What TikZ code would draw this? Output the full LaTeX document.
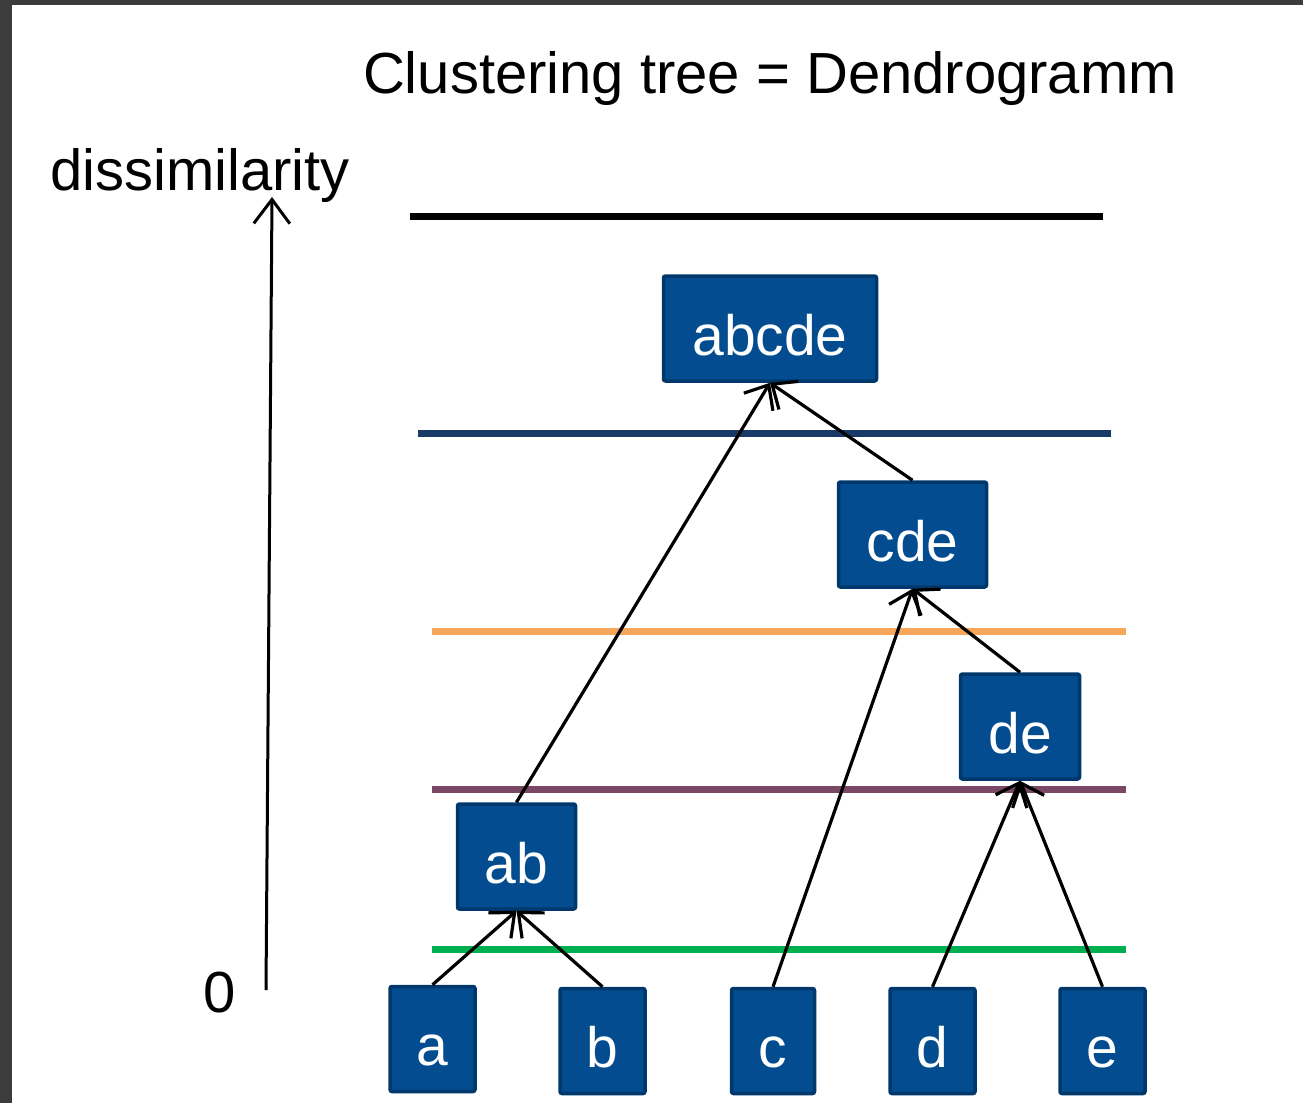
\documentclass[tikz,border=0pt]{standalone}
\usepackage{fontspec}
\setmainfont{Liberation Sans}
\usetikzlibrary{arrows.meta}

\definecolor{boxfill}{RGB}{2,76,143}
\definecolor{boxline}{RGB}{0,56,108}
\definecolor{framegray}{RGB}{60,60,60}
\definecolor{lvlnavy}{RGB}{24,58,102}
\definecolor{lvlorange}{RGB}{247,166,90}
\definecolor{lvlmauve}{RGB}{122,72,100}
\definecolor{lvlgreen}{RGB}{0,176,80}

\tikzset{
  cluster/.style={draw=boxline, fill=boxfill, line width=3.5pt, rounded corners=2pt,
    inner sep=0pt, text=white, font=\fontsize{57pt}{60pt}\selectfont,
    text height=53pt, text depth=0pt, minimum height=105pt},
  leaf/.style={cluster, minimum width=85pt},
  merge/.style={line width=3.2pt, -{Straight Barb[length=20pt,width=34pt]}},
  level/.style={line width=7pt},
  label/.style={font=\fontsize{58pt}{62pt}\selectfont, inner sep=0pt}
}

\begin{document}
\begin{tikzpicture}[x=1pt, y=-1pt]
  \useasboundingbox (0,0) rectangle (1303,1103);
  \fill[white] (0,0) rectangle (1303,1103);
  % window frame
  \fill[framegray] (0,0) rectangle (1303,5);
  \fill[framegray] (0,0) rectangle (12,1103);

  % title and axis labels
  \node[label, anchor=base] (title) at (770,93) {Clustering tree = Dendrogramm};
  \node[label, anchor=base west] (ylabel) at (50,190) {dissimilarity};
  \node[label, anchor=base] (zero) at (220,1012) {0};

  % dissimilarity axis
  \coordinate (axlo) at (266,990);
  \coordinate (axhi) at (272,197);
  \draw[line width=3pt, -{Straight Barb[length=24pt,width=36pt]}] (axlo) -- (axhi);

  % cut levels
  \draw[level, black] (410,216) -- (1103,216);
  \draw[level, lvlnavy] (418,433) -- (1111,433);
  \draw[level, lvlorange] (432,631) -- (1126,631);
  \draw[level, lvlmauve] (432,789) -- (1126,789);
  \draw[level, lvlgreen] (432,949) -- (1126,949);

  % clusters
  \node[cluster, minimum width=213pt] (abcde) at (770,328.5) {abcde};
  \node[cluster, minimum width=148pt] (cde) at (912.5,534.5) {cde};
  \node[cluster, minimum width=119pt] (de) at (1020,726.5) {de};
  \node[cluster, minimum width=118pt] (ab) at (516.5,856.5) {ab};

  % leaves
  \node[leaf] (a) at (432.5,1039) {a};
  \node[leaf] (b) at (602.5,1041) {b};
  \node[leaf, minimum width=83pt] (c) at (773,1041) {c};
  \node[leaf] (d) at (932.5,1041) {d};
  \node[leaf] (e) at (1102.5,1041) {e};

  % merges
  \draw[merge] (a.north) -- (ab.south);
  \draw[merge] (b.north) -- (ab.south);
  \draw[merge] (d.north) -- (de.south);
  \draw[merge] (e.north) -- (de.south);
  \draw[merge] (c.north) -- (cde.south);
  \draw[merge] (de.north) -- (cde.south);
  \draw[merge] (ab.north) -- (abcde.south);
  \draw[merge] (cde.north) -- (abcde.south);
\end{tikzpicture}
\end{document}
